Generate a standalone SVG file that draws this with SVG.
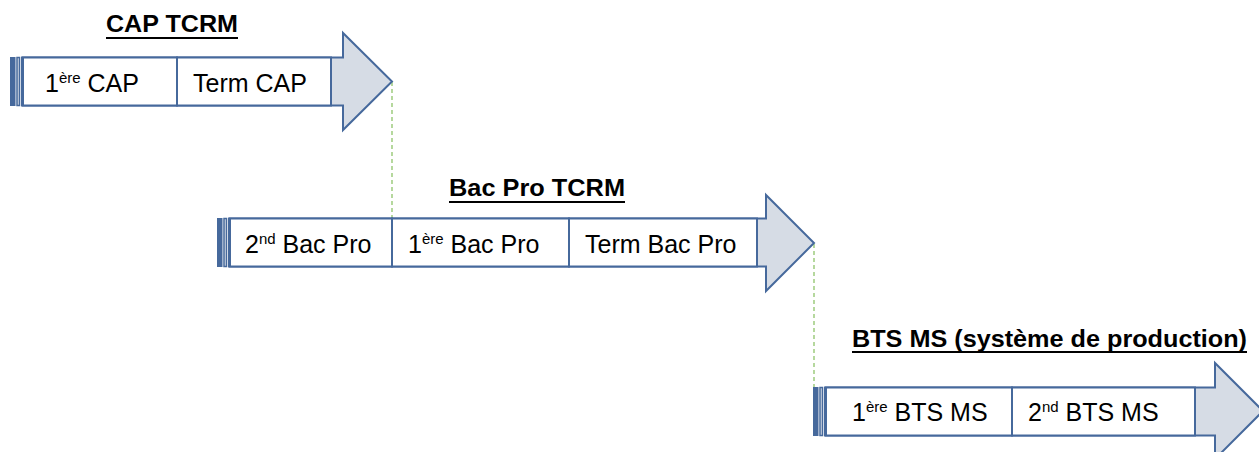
<svg xmlns="http://www.w3.org/2000/svg" width="1259" height="452" viewBox="0 0 1259 452">
  <style>
    .arrow { fill: #d6dce5; stroke: #46699c; stroke-width: 2; stroke-linejoin: miter; }
    .stripe { fill: #46699c; stroke: #46699c; stroke-width: 1; }
    .stripe2 { fill: #d6dce5; stroke: #46699c; stroke-width: 1.5; }
    .box { fill: #ffffff; stroke: #46699c; stroke-width: 2; }
    .lbl { font-family: "Liberation Sans", Arial, sans-serif; font-size: 25px; fill: #000000; }
    .sup { font-size: 15px; }
    .title { font-family: "Liberation Sans", Arial, sans-serif; font-size: 24px; font-weight: bold; fill: #000000; }
    .uline { stroke: #000000; stroke-width: 2; }
    .link { stroke: #8fc46a; stroke-width: 1.3; stroke-dasharray: 4 3; fill: none; }
  </style>

  <!-- dashed links between stages -->
  <g id="connectors">
    <line class="link" x1="392" y1="82" x2="392" y2="218"/>
    <line class="link" x1="814" y1="244" x2="814" y2="387"/>
  </g>

  <!-- stage 1 -->
  <g id="cap">
    <text class="title" x="106" y="32" textLength="132" lengthAdjust="spacingAndGlyphs">CAP TCRM</text>
    <line class="uline" x1="106" y1="38" x2="238" y2="38"/>
    <path class="arrow" d="M22,57.5 H343 V33 L392,81.5 L343,130 V105.5 H22 Z"/>
    <rect class="stripe" x="10.5" y="57.5" width="4.5" height="48"/>
    <rect class="stripe2" x="17" y="57.5" width="2.5" height="48"/>
    <rect class="box" x="23" y="57.5" width="154" height="48"/>
    <rect class="box" x="177" y="57.5" width="154" height="48"/>
    <text class="lbl" x="45" y="92">1<tspan class="sup" dy="-9">ère</tspan><tspan dy="9"> CAP</tspan></text>
    <text class="lbl" x="193" y="92">Term CAP</text>
  </g>

  <!-- stage 2 -->
  <g id="bacpro">
    <text class="title" x="449" y="196" textLength="176" lengthAdjust="spacingAndGlyphs">Bac Pro TCRM</text>
    <line class="uline" x1="449" y1="202" x2="625" y2="202"/>
    <path class="arrow" d="M229,218.5 H766 V195 L814,243 L766,291 V266.5 H229 Z"/>
    <rect class="stripe" x="217.5" y="218.5" width="4.5" height="48"/>
    <rect class="stripe2" x="224" y="218.5" width="2.5" height="48"/>
    <rect class="box" x="230" y="218.5" width="162" height="48"/>
    <rect class="box" x="392" y="218.5" width="177" height="48"/>
    <rect class="box" x="569" y="218.5" width="188" height="48"/>
    <text class="lbl" x="245" y="253">2<tspan class="sup" dy="-9">nd</tspan><tspan dy="9"> Bac Pro</tspan></text>
    <text class="lbl" x="408" y="253">1<tspan class="sup" dy="-9">ère</tspan><tspan dy="9"> Bac Pro</tspan></text>
    <text class="lbl" x="585" y="253">Term Bac Pro</text>
  </g>

  <!-- stage 3 -->
  <g id="bts">
    <text class="title" x="852" y="347" textLength="395" lengthAdjust="spacingAndGlyphs">BTS MS (système de production)</text>
    <line class="uline" x1="852" y1="352" x2="1247" y2="352"/>
    <path class="arrow" d="M825,387.5 H1215 V363 L1263,411 L1215,459 V435.5 H825 Z"/>
    <rect class="stripe" x="813.5" y="387.5" width="4.5" height="48"/>
    <rect class="stripe2" x="820" y="387.5" width="2.5" height="48"/>
    <rect class="box" x="826" y="387.5" width="186" height="48"/>
    <rect class="box" x="1012" y="387.5" width="183" height="48"/>
    <text class="lbl" x="852" y="421">1<tspan class="sup" dy="-9">ère</tspan><tspan dy="9"> BTS MS</tspan></text>
    <text class="lbl" x="1028" y="421">2<tspan class="sup" dy="-9">nd</tspan><tspan dy="9"> BTS MS</tspan></text>
  </g>
</svg>
